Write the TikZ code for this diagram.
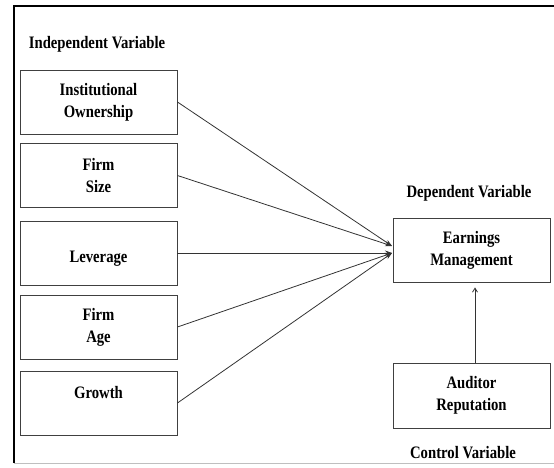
\documentclass[tikz,border=0pt]{standalone}
\usepackage{fontspec}
\setmainfont{Liberation Serif}[FakeStretch=0.84]
\usetikzlibrary{arrows.meta}
\begin{document}
\begin{tikzpicture}[x=1pt,y=-1pt,
   var/.style={draw=black!75, line width=0.9pt, minimum width=157pt,
     minimum height=64pt, inner sep=0pt, align=center,
     font=\bfseries\fontsize{17.5}{22}\selectfont},
   title/.style={font=\bfseries\fontsize{17.5}{20}\selectfont}]
   \useasboundingbox (0,0) rectangle (554,468);
   % frame
   \draw[line width=2.2pt] (554,6) -- (14,6) -- (14,463);
   \draw[black!25, line width=1pt] (14,463) -- (554,463);
   % independent variables
   \node[title] (IV) at (97,44) {Independent Variable};
   \node[var] (IO)  at (98.5,102)   {Institutional\\Ownership};
   \node[var] (FS)  at (98.5,175.5) {Firm\\Size};
   \node[var] (LEV) at (98.5,253)   {\mbox{}\\Leverage};
   \node[var] (FA)  at (98.5,327)   {Firm\\Age};
   \node[var] (GR)  at (98.5,403)   {Growth\\\mbox{}};
   % dependent and control variables
   \node[title] (DV) at (469,193) {Dependent Variable};
   \node[var] (EM) at (471.5,250)   {Earnings\\Management};
   \node[var, minimum height=65pt] (AR) at (471.5,395.5) {Auditor\\Reputation};
   \node[title] (CV) at (463,453) {Control Variable};
   \coordinate (tipA) at (392,246);
   \coordinate (tipB) at (392,253);
   \path[-{Stealth[length=7pt,width=5pt]}, color=black!80, line width=0.8pt]
     (IO.east)  edge (tipA)
     (FS.east)  edge (tipA)
     (LEV.east) edge (tipB)
     (FA.east)  edge (tipB)
     (GR.east)  edge (tipB);
   \draw[-{Straight Barb[length=4pt,width=5pt]}, draw=black!80, line width=0.8pt]
     ([xshift=3.5pt]AR.north) -- ([xshift=3.5pt,yshift=-5pt]EM.south);
\end{tikzpicture}
\end{document}
